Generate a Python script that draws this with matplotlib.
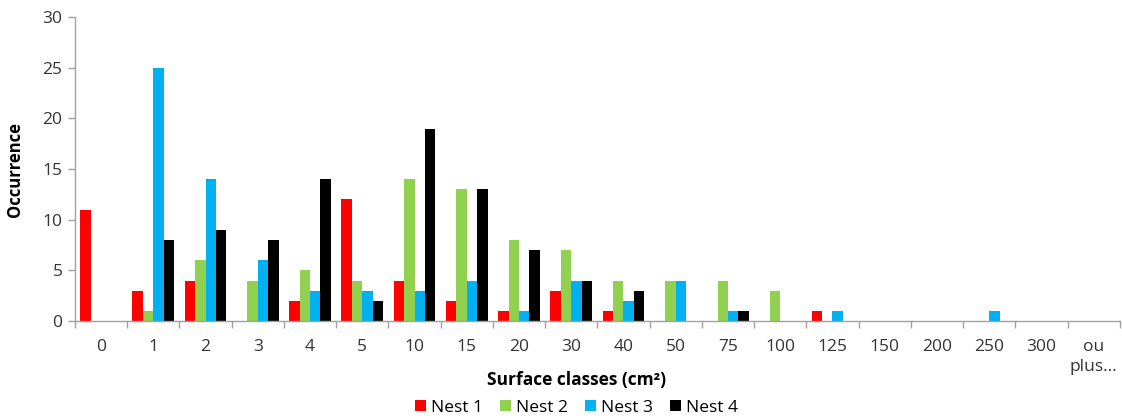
import matplotlib
matplotlib.use("Agg")
import matplotlib.pyplot as plt
import numpy as np

categories = ["0", "1", "2", "3", "4", "5", "10", "15", "20", "30", "40", "50",
              "75", "100", "125", "150", "200", "250", "300", "ou\nplus..."]
nest1 = [11, 3, 4, 0, 2, 12, 4, 2, 1, 3, 1, 0, 0, 0, 1, 0, 0, 0, 0, 0]
nest2 = [0, 1, 6, 4, 5, 4, 14, 13, 8, 7, 4, 4, 4, 3, 0, 0, 0, 0, 0, 0]
nest3 = [0, 25, 14, 6, 3, 3, 3, 4, 1, 4, 2, 4, 1, 0, 1, 0, 0, 1, 0, 0]
nest4 = [0, 8, 9, 8, 14, 2, 19, 13, 7, 4, 3, 0, 1, 0, 0, 0, 0, 0, 0, 0]
series = [("Nest 1", nest1, "#FF0000"),
          ("Nest 2", nest2, "#92D050"),
          ("Nest 3", nest3, "#00B0F0"),
          ("Nest 4", nest4, "#000000")]

plt.rcParams["font.family"] = ["Open Sans", "DejaVu Sans"]

fig = plt.figure(figsize=(11.22, 4.18), dpi=100)
ax = fig.add_axes([0.0668, 0.232, 0.9312, 0.727])

x = np.arange(len(categories))
w = 0.2
for i, (name, vals, col) in enumerate(series):
    ax.bar(x - 0.3 + i * w, vals, width=w, color=col, label=name, linewidth=0)

ax.set_xlim(-0.5, len(categories) - 0.5)
ax.set_ylim(0, 30)
ax.set_yticks(range(0, 31, 5))
ax.set_xticks(x)
ax.set_xticklabels(categories, fontsize=12.5, color="#333333", linespacing=1.35)
ax.set_xticks(np.arange(-0.5, len(categories), 1.0), minor=True)
ax.tick_params(axis="x", which="major", length=0, pad=13)
ax.tick_params(axis="x", which="minor", length=5, color="#A0A0A0", width=1)
ax.tick_params(axis="y", length=5, color="#A0A0A0", width=1,
               labelsize=12.5, labelcolor="#333333", pad=4)

for s in ("top", "right"):
    ax.spines[s].set_visible(False)
for s in ("left", "bottom"):
    ax.spines[s].set_color("#A0A0A0")
    ax.spines[s].set_linewidth(1)

ax.set_ylabel("Occurrence", fontsize=12, fontweight="bold")
ax.yaxis.set_label_coords(-0.049, 0.5)
fig.text(0.514, 0.09, "Surface classes (cm²)", ha="center", va="center",
         fontsize=12.5, fontweight="bold")

fig.legend(loc="center", bbox_to_anchor=(0.514, 0.025), ncol=4, frameon=False,
           fontsize=12.5, handlelength=0.6, handleheight=0.6, handletextpad=0.3,
           columnspacing=1.0)

fig.savefig("out.png", dpi=100)
